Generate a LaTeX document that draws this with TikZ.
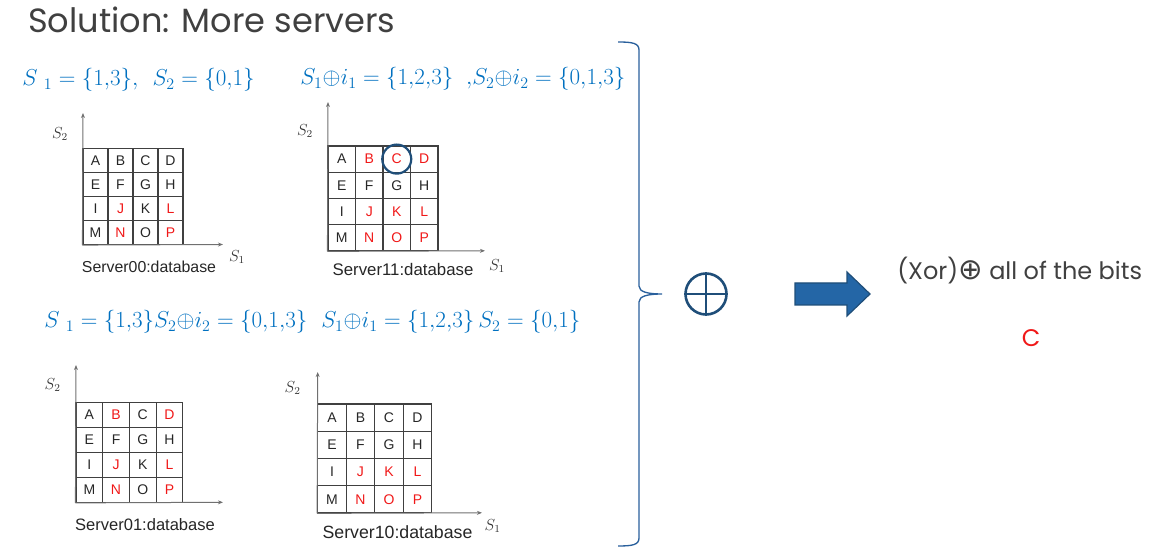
\documentclass[tikz,border=0pt]{standalone}
\usepackage{fontspec}
\setmainfont{Liberation Sans}
\newfontfamily\titlefont{Poppins}
\newfontfamily\dejavu{DejaVu Sans}
\usetikzlibrary{arrows.meta}
\definecolor{mathblue}{HTML}{0070C0}
\definecolor{titlegray}{HTML}{404040}
\definecolor{bracec}{HTML}{2A609C}
\definecolor{xorc}{HTML}{1F4E79}
\definecolor{arrowfill}{HTML}{2466A6}
\definecolor{gridc}{HTML}{404040}
\definecolor{axisc}{HTML}{707070}
\definecolor{redtxt}{HTML}{F01818}
\newlength\pxu \setlength\pxu{0.75pt}
\newcommand\rd{\color{redtxt}}
\newcommand\mkgrid[6]{%
  \foreach \lt [count=\i from 0] in {#6} {%
    \pgfmathtruncatemacro\row{floor(\i/4)}%
    \pgfmathtruncatemacro\col{mod(\i,4)}%
    \node[cell, minimum width=#4\pxu, minimum height=#5\pxu] (#1-\i) at ({#2+(\col+0.5)*#4},{#3+(\row+0.5)*#5}) {\lt};
  }}
\tikzset{
  cell/.style={draw=gridc, line width=0.85pt, inner sep=0pt, font=\fontsize{10.5}{12}\selectfont, text=black!85},
  axis/.style={draw=axisc, line width=0.75pt, -{Stealth[length=3.8pt,width=3pt]}},
  axlbl/.style={inner sep=0pt, text=black!80, font=\fontsize{12}{14}\selectfont},
  srvlbl/.style={inner sep=0pt, text=black!85, font=\fontsize{#1}{14}\selectfont},
  mtext/.style={text=mathblue, anchor=base west, inner sep=0pt, font=\fontsize{17}{20}\selectfont},
}
\begin{document}
\begin{tikzpicture}[x=0.75pt,y=-0.75pt]
\useasboundingbox (0,0) rectangle (1163,555);

% title
\node[anchor=base west, inner sep=0pt, font=\titlefont\fontsize{25.2}{30}\selectfont, text=titlegray] (title) at (28,33) {Solution: More servers};

% formulas
\node[mtext] (l1a) at (22,86) {$S\;{}_1 = \{1{,}3\},\;\, S_2 = \{0{,}1\}$};
\node[mtext] (l1b) at (300,85) {$S_1{\oplus}i_1 = \{1{,}2{,}3\}\ \ {,}S_2{\oplus}i_2 = \{0{,}1{,}3\}$};
\node[mtext] (l2a) at (44,328) {$S\;{}_1 = \{1{,}3\}S_2{\oplus}i_2 = \{0{,}1{,}3\}$};
\node[mtext] (l2b) at (321,328) {$S_1{\oplus}i_1 = \{1{,}2{,}3\}\,S_2 = \{0{,}1\}$};

% Server00
\mkgrid{ga}{83}{148.5}{25}{24}{A,B,C,D,E,F,G,H,I,\rd J,K,\rd L,M,\rd N,O,\rd P}
\coordinate (ga-yt) at (83,113);
\coordinate (ga-xt) at (223,244.5);
\draw[axis] (ga-12.south west) -- (ga-yt);
\draw[axis] (ga-12.south west) -- (ga-xt);
\node[axlbl] (ga-s2) at (60,134) {$S_2$};
\node[axlbl] (ga-s1) at (237,257) {$S_1$};
\node[srvlbl=11.9] (ga-lbl) at (149,267) {Server00:database};

% Server11
\mkgrid{gb}{328}{146}{27.5}{26.2}{A,\rd B,\rd C,\rd D,E,F,G,H,I,\rd J,\rd K,\rd L,M,\rd N,\rd O,\rd P}
\coordinate (gb-yt) at (328,102);
\coordinate (gb-xt) at (485,250.8);
\draw[axis] (gb-12.south west) -- (gb-yt);
\draw[axis] (gb-12.south west) -- (gb-xt);
\node[axlbl] (gb-s2) at (305,131) {$S_2$};
\node[axlbl] (gb-s1) at (497,266) {$S_1$};
\node[srvlbl=12.6] (gb-lbl) at (403,269) {Server11:database};
\node[circle, draw=xorc, line width=1.65pt, minimum size=21.75pt, inner sep=0pt] (gb-mark) at (gb-2.center) {};

% Server01
\mkgrid{gc}{76}{402.3}{26.7}{25}{A,\rd B,C,\rd D,E,F,G,H,I,\rd J,K,\rd L,M,\rd N,O,\rd P}
\coordinate (gc-yt) at (76,365);
\coordinate (gc-xt) at (223,502.3);
\draw[axis] (gc-12.south west) -- (gc-yt);
\draw[axis] (gc-12.south west) -- (gc-xt);
\node[axlbl] (gc-s2) at (52.7,385) {$S_2$};
\node[srvlbl=12.4] (gc-lbl) at (145,525) {Server01:database};

% Server10
\mkgrid{gd}{317.7}{404}{28.5}{27.2}{A,B,C,D,E,F,G,H,I,\rd J,\rd K,\rd L,M,\rd N,\rd O,\rd P}
\coordinate (gd-yt) at (317.7,372);
\coordinate (gd-xt) at (482,512.8);
\draw[axis] (gd-12.south west) -- (gd-yt);
\draw[axis] (gd-12.south west) -- (gd-xt);
\node[axlbl] (gd-s2) at (292.7,388) {$S_2$};
\node[axlbl] (gd-s1) at (492.7,526) {$S_1$};
\node[srvlbl=13.3] (gd-lbl) at (397.5,532) {Server10:database};

% brace
\coordinate (bt) at (618,42);
\coordinate (bm) at (662,294);
\coordinate (bb) at (618,546);
\draw[bracec, line width=1pt] (bt) .. controls (632,42) and (639,43) .. (639,50)
  -- (639,286) .. controls (639,292) and (648,294) .. (bm)
  .. controls (648,294) and (639,296) .. (639,302)
  -- (639,538) .. controls (639,545) and (632,546) .. (bb);

% big xor
\node[circle, draw=xorc, line width=1.95pt, minimum size=30.75pt, inner sep=0pt] (xor) at (706,294) {};
\draw[xorc, line width=1.95pt] (xor.north) -- (xor.south) (xor.west) -- (xor.east);

% block arrow
\draw[draw=xorc, fill=arrowfill, line width=0.9pt, line join=miter]
  (795,283) -- (847,283) -- (847,272) -- (870,294) -- (847,316) -- (847,305) -- (795,305) -- cycle;

% result text
\node[anchor=base west, inner sep=0pt, font=\titlefont\fontsize{18}{22}\selectfont, text=titlegray] (xortxt) at (897,280) {(Xor){\dejavu\fontsize{22}{22}\selectfont ⊕} all of the bits};
\node[inner sep=0pt, font=\titlefont\fontsize{18}{22}\selectfont, text=redtxt] (res) at (1031,338) {C};
\end{tikzpicture}
\end{document}
